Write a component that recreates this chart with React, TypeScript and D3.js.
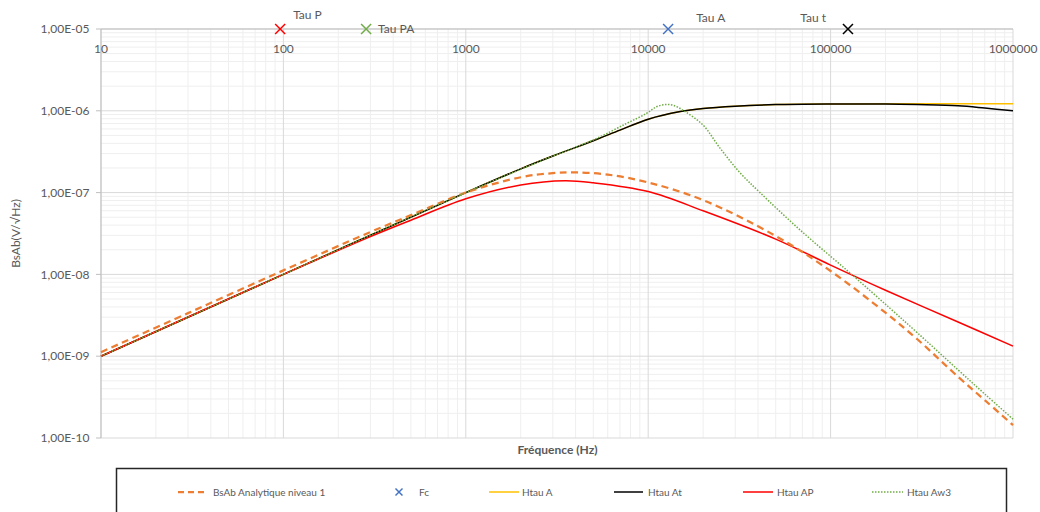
import React from "react";
import * as d3 from "d3";

// ---------- DATA ----------
const xTicks = [10, 100, 1000, 10000, 100000, 1000000];
const yTicks = [1e-5, 1e-6, 1e-7, 1e-8, 1e-9, 1e-10];

const bsAbFreq = [10, 30, 100, 300, 500, 1000, 2000, 3000, 4000, 6000, 10000, 20000, 50000, 100000, 200000, 300000, 500000, 700000, 1000000];
const bsAbVal = [1.12e-9, 3.36e-9, 1.12e-8, 3.3e-8, 5.3e-8, 1.0e-7, 1.54e-7, 1.73e-7, 1.77e-7, 1.66e-7, 1.33e-7, 8.1e-8, 2.95e-8, 1.1e-8, 3.4e-9, 1.6e-9, 5.6e-10, 2.9e-10, 1.44e-10];

const htauAFreq = [10, 100, 1000, 2000, 3000, 5000, 7000, 10000, 15000, 20000, 30000, 50000, 100000, 200000, 500000, 1000000];
const htauAVal = [1e-9, 1e-8, 1.0e-7, 1.95e-7, 2.8e-7, 4.3e-7, 5.8e-7, 7.9e-7, 9.8e-7, 1.07e-6, 1.14e-6, 1.19e-6, 1.21e-6, 1.22e-6, 1.22e-6, 1.22e-6];

const htauAtFreq = [10, 100, 1000, 2000, 3000, 5000, 7000, 10000, 15000, 20000, 30000, 50000, 100000, 200000, 300000, 500000, 700000, 1000000];
const htauAtVal = [1e-9, 1e-8, 1.0e-7, 1.95e-7, 2.8e-7, 4.3e-7, 5.8e-7, 7.9e-7, 9.8e-7, 1.07e-6, 1.14e-6, 1.19e-6, 1.21e-6, 1.21e-6, 1.19e-6, 1.15e-6, 1.08e-6, 1.0e-6];

const htauAPFreq = [10, 100, 300, 500, 1000, 2000, 3500, 5000, 10000, 20000, 50000, 100000, 200000, 500000, 1000000];
const htauAPVal = [1e-9, 1e-8, 2.9e-8, 4.6e-8, 8.4e-8, 1.24e-7, 1.4e-7, 1.32e-7, 1.03e-7, 6.0e-8, 2.7e-8, 1.3e-8, 6.4e-9, 2.62e-9, 1.33e-9];

const htauAw3Freq = [10, 100, 1000, 3000, 5000, 7600, 9800, 11100, 12400, 13700, 15900, 19970, 24750, 31870, 41020, 67950, 127800, 211700, 300000, 500000, 700000, 1000000];
const htauAw3Val = [1e-9, 1e-8, 1.0e-7, 2.8e-7, 4.4e-7, 7.0e-7, 9.3e-7, 1.12e-6, 1.19e-6, 1.17e-6, 9.8e-7, 6.7e-7, 3.5e-7, 1.75e-7, 1.0e-7, 3.5e-8, 1.04e-8, 3.85e-9, 1.92e-9, 6.8e-10, 3.45e-10, 1.7e-10];

const fcFreq = [96, 284, 12860, 124500];
const fcVal = [1e-5, 1e-5, 1e-5, 1e-5];
const fcLabels = ["Tau P", "Tau PA", "Tau A", "Tau t"];

const legendLabels = ["BsAb Analytique niveau 1", "Fc", "Htau A", "Htau At", "Htau AP", "Htau Aw3"];

// ---------- STYLES ----------
const fcColors = ["#ff0000", "#70ad47", "#4472c4", "#000000"];
const fcLabelStyle = [
  { dx: 13, dy: -10, anchor: "start" },
  { dx: 12, dy: 3.5, anchor: "start" },
  { dx: 28, dy: -7.5, anchor: "start" },
  { dx: -22, dy: -7.5, anchor: "end" },
];
const FONT = "Lato, 'Open Sans', sans-serif";
const TXT = "#595959";

const L = 101, R = 1013, T = 29, B = 438;

export default function App() {
  const x = d3.scaleLog().domain([10, 1e6]).range([L, R]);
  const y = d3.scaleLog().domain([1e-10, 1e-5]).range([B, T]);

  const line = (fs: number[], vs: number[]) =>
    d3
      .line<number>()
      .x((_, i) => x(fs[i]))
      .y((v) => y(v))
      .curve(d3.curveCatmullRom.alpha(0.5))(vs) as string;

  const minorX: number[] = [];
  const majorX: number[] = [];
  for (let d = 10; d <= 1e6; d *= 10) {
    majorX.push(d);
    if (d < 1e6) for (let k = 2; k <= 9; k++) minorX.push(k * d);
  }
  const minorY: number[] = [];
  const majorY: number[] = [];
  for (let e = -10; e <= -5; e++) {
    const d = Math.pow(10, e);
    majorY.push(d);
    if (e < -5) for (let k = 2; k <= 9; k++) minorY.push(k * d);
  }

  const fmtY = (v: number) => {
    const e = Math.round(Math.log10(v));
    const s = Math.abs(e).toString().padStart(2, "0");
    return `1,00E${e < 0 ? "-" : "+"}${s}`;
  };

  const cross = (cx: number, cy: number, r: number, color: string, w = 1.5) => (
    <g stroke={color} strokeWidth={w}>
      <line x1={cx - r} y1={cy - r} x2={cx + r} y2={cy + r} />
      <line x1={cx - r} y1={cy + r} x2={cx + r} y2={cy - r} />
    </g>
  );

  const legY = 492;
  const legendItems = [
    { x0: 178, x1: 208, tx: 213, color: "#ed7d31", dash: "6,4", w: 2.25, type: "line" },
    { x0: 399, x1: 399, tx: 419, color: "#4472c4", dash: "", w: 1.5, type: "marker" },
    { x0: 489, x1: 519, tx: 522, color: "#ffc000", dash: "", w: 1.5, type: "line" },
    { x0: 614, x1: 643, tx: 648, color: "#000000", dash: "", w: 1.5, type: "line" },
    { x0: 743, x1: 773, tx: 777, color: "#ff0000", dash: "", w: 1.5, type: "line" },
    { x0: 872, x1: 903, tx: 907, color: "#70ad47", dash: "1.5,1.5", w: 1.5, type: "line" },
  ];

  return (
    <svg
      width={1040}
      height={512}
      style={{ position: "absolute", left: 0, top: 0, background: "#fff" }}
      fontFamily={FONT}
    >
      <rect x={0} y={0} width={1040} height={512} fill="#fff" />
      {/* grid */}
      {minorX.map((v) => (
        <line key={"mx" + v} x1={x(v)} x2={x(v)} y1={T} y2={B} stroke="#efefef" strokeWidth={1} />
      ))}
      {minorY.map((v) => (
        <line key={"my" + v} x1={L} x2={R} y1={y(v)} y2={y(v)} stroke="#efefef" strokeWidth={1} />
      ))}
      {majorX.map((v) => (
        <line key={"Mx" + v} x1={x(v)} x2={x(v)} y1={T} y2={B} stroke="#d9d9d9" strokeWidth={1} />
      ))}
      {majorY.map((v) => (
        <line key={"My" + v} x1={L} x2={R} y1={y(v)} y2={y(v)} stroke="#d9d9d9" strokeWidth={1} />
      ))}
      {/* axes */}
      <line x1={L} x2={L} y1={T} y2={B} stroke="#bfbfbf" strokeWidth={1} />
      {yTicks.map((v) => (
        <line key={"yt" + v} x1={L - 5} x2={L} y1={y(v)} y2={y(v)} stroke="#bfbfbf" />
      ))}
      <line x1={L} x2={R} y1={T} y2={T} stroke="#bfbfbf" strokeWidth={1} />

      {/* tick labels */}
      {yTicks.map((v) => (
        <text key={"yl" + v} x={89.5} y={y(v)} dy="0.35em" textAnchor="end" fontSize={12} fill={TXT}>
          {fmtY(v)}
        </text>
      ))}
      {xTicks.map((v) => (
        <text key={"xl" + v} x={x(v)} y={52.5} textAnchor="middle" fontSize={12} fill={TXT}>
          {String(v)}
        </text>
      ))}

      {/* axis titles */}
      <text
        transform={`translate(19.5, ${(T + B) / 2}) rotate(-90)`}
        textAnchor="middle"
        fontSize={12}
        fill={TXT}
      >
        BsAb(V/√Hz)
      </text>
      <text x={557.5} y={453.5} textAnchor="middle" fontSize={12} fontWeight="bold" fill={TXT}>
        Fréquence (Hz)
      </text>

      {/* series */}
      <path d={line(htauAFreq, htauAVal)} fill="none" stroke="#ffc000" strokeWidth={1.5} />
      <path d={line(htauAtFreq, htauAtVal)} fill="none" stroke="#000000" strokeWidth={1.5} />
      <path d={line(htauAPFreq, htauAPVal)} fill="none" stroke="#ff0000" strokeWidth={1.5} />
      <path d={line(bsAbFreq, bsAbVal)} fill="none" stroke="#ed7d31" strokeWidth={2.25} strokeDasharray="7,4.5" />
      <path d={line(htauAw3Freq, htauAw3Val)} fill="none" stroke="#70ad47" strokeWidth={1.5} strokeDasharray="1.5,1.5" />

      {/* Fc markers */}
      {fcFreq.map((f, i) => (
        <g key={"fc" + i}>
          {cross(x(f), y(fcVal[i]), 5, fcColors[i])}
          <text
            x={x(f) + fcLabelStyle[i].dx}
            y={y(fcVal[i]) + fcLabelStyle[i].dy}
            textAnchor={fcLabelStyle[i].anchor as any}
            fontSize={12}
            fill={TXT}
          >
            {fcLabels[i]}
          </text>
        </g>
      ))}

      {/* legend */}
      <rect x={116.5} y={468.5} width={890} height={60} fill="#fff" stroke="#262626" strokeWidth={1.5} />
      {legendItems.map((it, i) => (
        <g key={"lg" + i}>
          {it.type === "line" ? (
            <line
              x1={it.x0}
              x2={it.x1}
              y1={legY}
              y2={legY}
              stroke={it.color}
              strokeWidth={it.w}
              strokeDasharray={it.dash || undefined}
            />
          ) : (
            cross(it.x0, legY, 3.5, it.color, 1.5)
          )}
          <text x={it.tx} y={legY} dy="0.35em" fontSize={10} fill={TXT}>
            {legendLabels[i]}
          </text>
        </g>
      ))}
    </svg>
  );
}
